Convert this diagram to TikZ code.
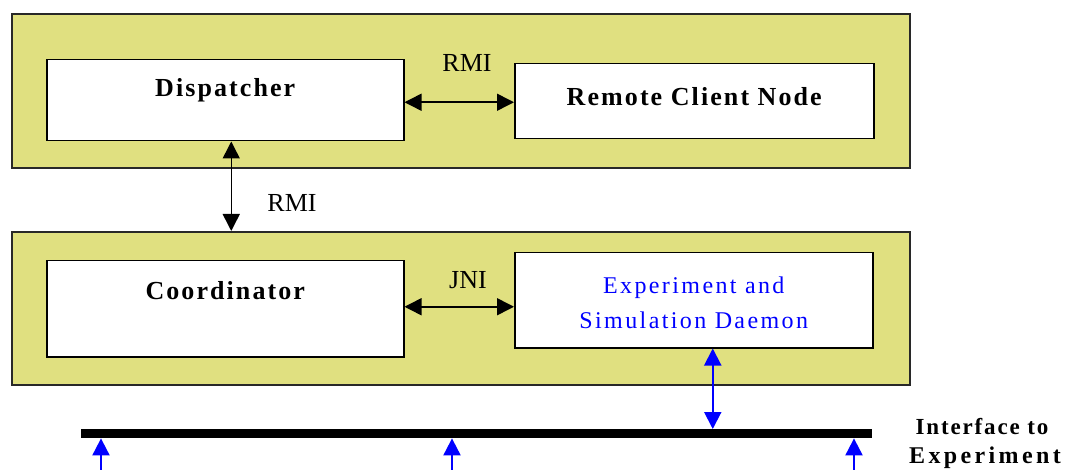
\documentclass[tikz,border=0pt]{standalone}
\usepackage{fontspec}
\setmainfont{Liberation Serif}
\newfontfamily\boxfont[LetterSpace=8]{Liberation Serif}
\newfontfamily\widefont[LetterSpace=14]{Liberation Serif}
\newfontfamily\bluefont[LetterSpace=10]{Liberation Serif}
\usetikzlibrary{arrows.meta}
\definecolor{panelyellow}{RGB}{224,224,128}
\definecolor{edgegray}{RGB}{40,40,40}
\definecolor{pureblue}{RGB}{0,0,255}
\begin{document}
\begin{tikzpicture}[x=1pt,y=-1pt,
  panel/.style={draw=edgegray, line width=1.6pt, fill=panelyellow, anchor=north west, inner sep=0pt},
  inbox/.style={draw=black, line width=1.5pt, fill=white, anchor=north west, inner sep=0pt},
  boxlabel/.style={font=\boxfont\bfseries\fontsize{26}{28}\selectfont, inner sep=0pt},
  bluelabel/.style={font=\bluefont\fontsize{24}{35}\selectfont, text=pureblue, align=center, inner sep=0pt},
  linklabel/.style={font=\fontsize{26}{28}\selectfont, inner sep=0pt},
  sidelabel/.style={font=\boxfont\bfseries\fontsize{23}{30}\selectfont, inner sep=0pt},
  sidelabelwide/.style={font=\widefont\bfseries\fontsize{24}{30}\selectfont, inner sep=0pt},
  blackarrow/.style={line width=1.5pt, draw=black, {Triangle[length=17pt,width=17pt]}-{Triangle[length=17pt,width=17pt]}},
  bluearrow/.style={line width=2pt, draw=pureblue, {Triangle[length=17pt,width=17pt]}-{Triangle[length=17pt,width=17pt]}},
  blueup/.style={line width=2pt, draw=pureblue, {Triangle[length=17pt,width=17pt]}-},
]
\useasboundingbox (0,0) rectangle (1073,470);

% panels
\node[panel, minimum width=898pt, minimum height=154pt] (top) at (11,13) {};
\node[panel, minimum width=898pt, minimum height=153pt] (low) at (11,231) {};

% inner boxes
\node[inbox, minimum width=357pt, minimum height=81pt] (disp) at (46,59) {};
\node[inbox, minimum width=359pt, minimum height=75pt] (rcn) at (514,63) {};
\node[inbox, minimum width=357pt, minimum height=96pt] (coord) at (46,260) {};
\node[inbox, minimum width=358pt, minimum height=95pt] (esd) at (514,252) {};

% box texts
\node[boxlabel] (tdisp) at ([yshift=10pt]disp.center) {Dispatcher};
\node[boxlabel] (trcn) at ([yshift=5pt]rcn.center) {Remote Client Node};
\node[boxlabel] (tcoord) at ([yshift=18pt]coord.center) {Coordinator};
\node[bluelabel] (tesd) at ([yshift=-3pt]esd.center) {Experiment and\\Simulation Daemon};

% bar
\node[draw=none, fill=black, minimum width=791pt, minimum height=9pt, anchor=north west, inner sep=0pt] (bar) at (81,429) {};

% connectors
\draw[blackarrow] ([yshift=-2pt]disp.east) -- ([yshift=-2pt]disp.east -| rcn.west);
\draw[blackarrow] ([xshift=6pt]disp.south) -- ([xshift=6pt]disp.south |- low.north);
\draw[blackarrow] ([yshift=2pt]coord.east) -- ([yshift=2pt]coord.east -| esd.west);
\draw[bluearrow] ([xshift=19pt]esd.south) -- ([xshift=19pt]esd.south |- bar.north);

\coordinate (b1) at (101,472);
\coordinate (b2) at (452,472);
\coordinate (b3) at (854,472);
\draw[blueup] (b1 |- bar.south) -- (b1);
\draw[blueup] (b2 |- bar.south) -- (b2);
\draw[blueup] (b3 |- bar.south) -- (b3);

% link labels
\node[linklabel] (l1) at (467,63) {RMI};
\node[linklabel] (l2) at (292,203) {RMI};
\node[linklabel] (l3) at (468,280) {JNI};

% side label
\node[sidelabel] (s1) at (982,427) {Interface to};
\node[sidelabelwide] (s2) at (985,458) {Experiment};
\end{tikzpicture}
\end{document}
